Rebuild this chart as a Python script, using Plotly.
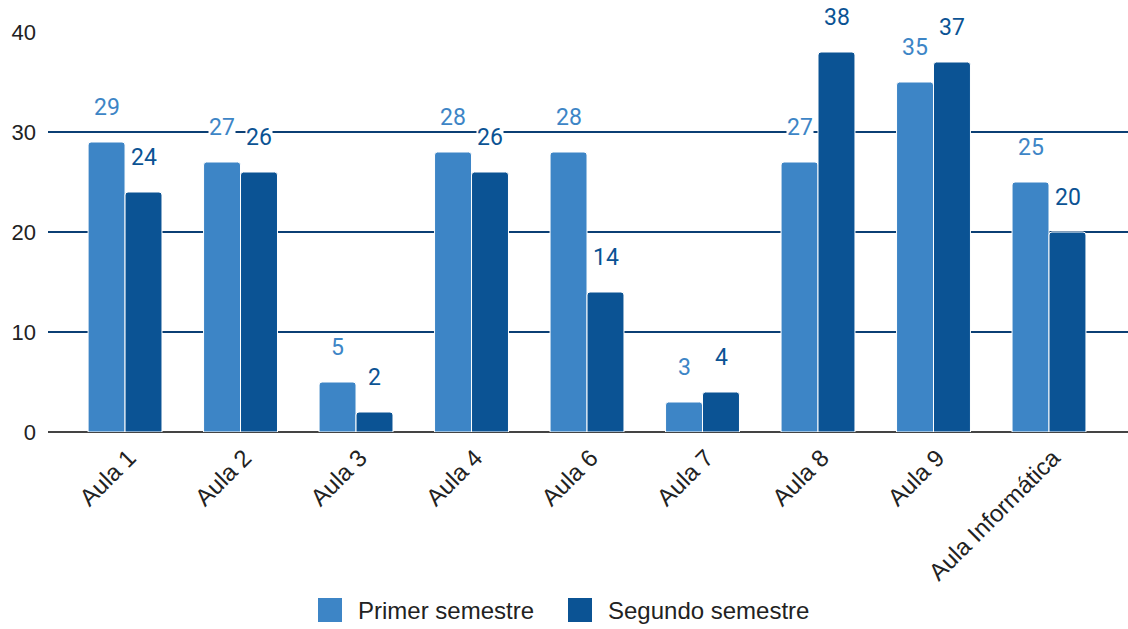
import plotly.graph_objects as go

aulas = ["Aula 1", "Aula 2", "Aula 3", "Aula 4", "Aula 6", "Aula 7", "Aula 8", "Aula 9", "Aula Informática"]
primer = [29, 27, 5, 28, 28, 3, 27, 35, 25]
segundo = [24, 26, 2, 26, 14, 4, 38, 37, 20]

c_primer = "#3d85c6"
c_segundo = "#0b5394"
font_family = "Liberation Sans, Arial, sans-serif"
text_color = "#222222"

W, H = 1128, 629
M_L, M_R, M_T, M_B = 48, 0, 32, 197
plot_w = W - M_L - M_R
plot_h = H - M_T - M_B


def px_x(px):
    return (px - M_L) / plot_w


def px_y(py):
    return (H - M_B - py) / plot_h


fig = go.Figure()
fig.add_trace(go.Bar(name="Primer semestre", x=aulas, y=primer, showlegend=False,
                     marker=dict(color=c_primer, line=dict(color="white", width=1))))
fig.add_trace(go.Bar(name="Segundo semestre", x=aulas, y=segundo, showlegend=False,
                     marker=dict(color=c_segundo, line=dict(color="white", width=1))))

# value labels floating above each bar, with a tight white backing over gridlines
for vals, color, shift in ((primer, c_primer, -18.5), (segundo, c_segundo, 18.5)):
    for cat, v in zip(aulas, vals):
        fig.add_annotation(x=cat, y=v, text=str(v), showarrow=False,
                           xshift=shift, yshift=35, yanchor="middle",
                           height=18, valign="middle",
                           font=dict(family="Roboto, sans-serif", size=23, color=color),
                           bgcolor="white", borderpad=0)

# legend row below the chart: square swatch + series name
legend_items = [("Primer semestre", c_primer, 318), ("Segundo semestre", c_segundo, 568)]
for name, color, x0 in legend_items:
    fig.add_shape(type="rect", xref="paper", yref="paper",
                  x0=px_x(x0), x1=px_x(x0 + 24), y0=px_y(622), y1=px_y(598),
                  fillcolor=color, line=dict(width=0))
    fig.add_annotation(xref="paper", yref="paper", x=px_x(x0 + 38), y=px_y(610),
                       text=name, showarrow=False, xanchor="left", yanchor="middle",
                       font=dict(family=font_family, size=24, color=text_color))

fig.update_layout(
    width=W, height=H,
    margin=dict(l=M_L, r=M_R, t=M_T, b=M_B),
    paper_bgcolor="white", plot_bgcolor="white",
    barmode="group", bargap=0.36, bargroupgap=0.0,
    barcornerradius=3,
    font=dict(family=font_family, size=22, color=text_color),
    showlegend=False,
    xaxis=dict(type="category", range=[-0.667, 8.684], tickangle=-45,
               showgrid=False, ticks="", tickfont=dict(size=24, color=text_color),
               showline=False, automargin=False, ticklabelstandoff=6,
               ticklabelshift=4),
    yaxis=dict(range=[0, 40], dtick=10, showgrid=True, gridcolor="#0b3f74", gridwidth=2,
               zeroline=True, zerolinecolor="#444444", zerolinewidth=2, automargin=False,
               ticks="", tickfont=dict(size=22, color=text_color), ticklabelstandoff=11),
)

fig.write_html("out.html")
